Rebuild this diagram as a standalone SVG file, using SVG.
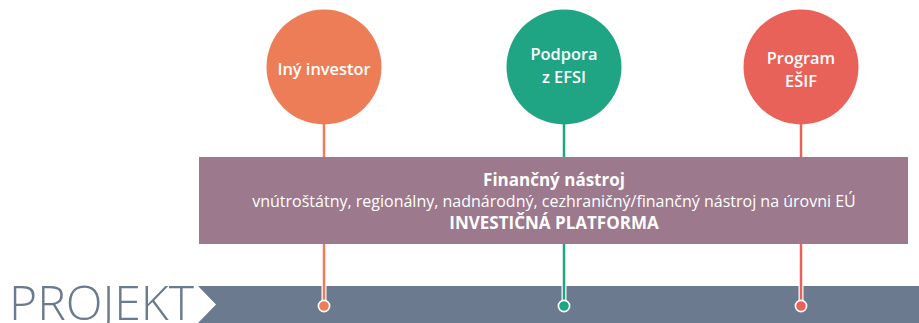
<svg xmlns="http://www.w3.org/2000/svg" width="919" height="323" viewBox="0 0 919 323">
<defs>
<style>
.ct{font-family:"Open Sans","Noto Sans","Liberation Sans",sans-serif;font-size:16.4px;font-weight:600;fill:#ffffff;text-anchor:middle}
.bt{font-family:"Open Sans","Noto Sans","Liberation Sans",sans-serif;font-size:16px;fill:#ffffff;text-anchor:middle}
.b{font-weight:700;font-size:17px}
.lnw{stroke:#ffffff;stroke-width:5}
.dot{stroke:#ffffff;stroke-width:1.6}
</style>
</defs>
<rect width="919" height="323" fill="#ffffff"/>
<g id="bar">
<polygon points="198,286 919,286 919,323 198,323 216,304.5" fill="#6b7a8f"/>
<text x="9" y="320" font-family="Open Sans,Noto Sans,Liberation Sans,sans-serif" font-size="48" font-weight="300" fill="#6b7a8f" textLength="185" lengthAdjust="spacingAndGlyphs">PROJEKT</text>
</g>
<g id="connectors">
<line x1="324" y1="110" x2="324" y2="158" stroke="#ec7d56" stroke-width="2.5"/>
<line x1="564" y1="110" x2="564" y2="158" stroke="#1fa584" stroke-width="2.5"/>
<line x1="801" y1="110" x2="801" y2="158" stroke="#e9625a" stroke-width="2.5"/>
<line class="lnw" x1="324" y1="286" x2="324" y2="302"/>
<line class="lnw" x1="564" y1="286" x2="564" y2="302"/>
<line class="lnw" x1="801" y1="286" x2="801" y2="302"/>
<line x1="324" y1="243" x2="324" y2="304" stroke="#ec7d56" stroke-width="2.5"/>
<line x1="564" y1="243" x2="564" y2="304" stroke="#1fa584" stroke-width="2.5"/>
<line x1="801" y1="243" x2="801" y2="304" stroke="#e9625a" stroke-width="2.5"/>
<circle class="dot" cx="324" cy="306" r="5.6" fill="#ec7d56"/>
<circle class="dot" cx="564" cy="306" r="5.6" fill="#1fa584"/>
<circle class="dot" cx="801" cy="306" r="5.6" fill="#e9625a"/>
</g>
<g id="investor">
<circle cx="324" cy="67" r="57.5" fill="#ec7d56"/>
<text class="ct" x="324" y="75">Iný investor</text>
</g>
<g id="efsi">
<circle cx="564" cy="67" r="57.5" fill="#1fa584"/>
<text class="ct" x="564" y="60">Podpora</text>
<text class="ct" x="564" y="83">z EFSI</text>
</g>
<g id="esif">
<circle cx="801" cy="67" r="57.5" fill="#e9625a"/>
<text class="ct" x="801" y="64">Program</text>
<text class="ct" x="801" y="87">EŠIF</text>
</g>
<g id="nastroj">
<rect x="199" y="157" width="709" height="87" fill="#9c798c"/>
<text class="bt b" x="554" y="186">Finančný nástroj</text>
<text class="bt" x="554" y="207">vnútroštátny, regionálny, nadnárodný, cezhraničný/finančný nástroj na úrovni EÚ</text>
<text class="bt b" x="554" y="229">INVESTIČNÁ PLATFORMA</text>
</g>
</svg>
